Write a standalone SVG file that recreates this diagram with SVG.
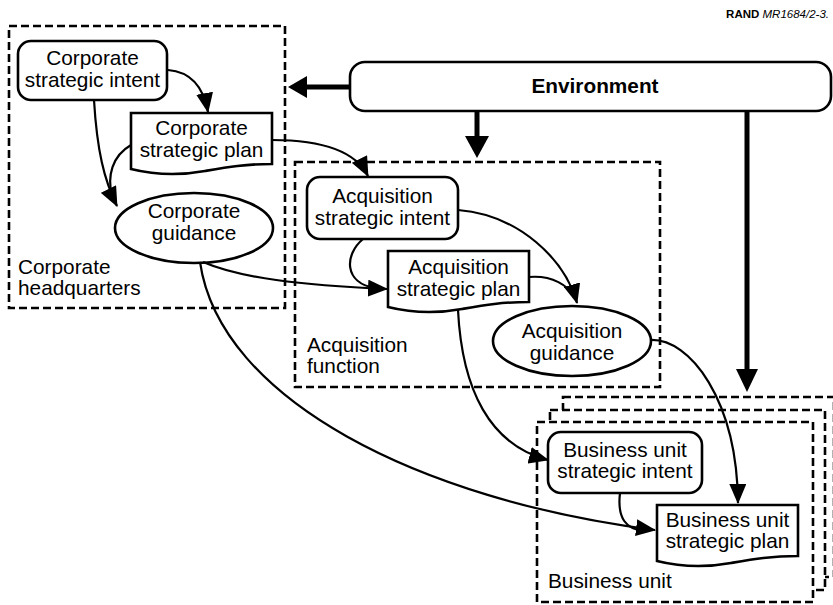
<svg xmlns="http://www.w3.org/2000/svg" width="833" height="605" viewBox="0 0 833 605">
<style>
  .t { font-family: "Liberation Sans", Arial, sans-serif; font-size: 20.8px; fill: #000; }
  .c { text-anchor: middle; }
  .node { fill: #fff; stroke: #000; stroke-width: 2.6; }
  .dash { fill: #fff; stroke: #000; stroke-width: 2.6; stroke-dasharray: 8 4; }
  .conn { fill: none; stroke: #000; stroke-width: 2.2; }
  .thick { fill: none; stroke: #000; stroke-width: 5; }
</style>
<defs>
  <marker id="ah" viewBox="0 0 20 17" refX="19" refY="8.5" markerWidth="20" markerHeight="17" markerUnits="userSpaceOnUse" orient="auto">
    <path d="M0,0 L20,8.5 L0,17 Z" fill="#000"/>
  </marker>
</defs>
<rect width="833" height="605" fill="#fff"/>

<text x="829" y="18" class="t" style="font-size:11.5px" text-anchor="end"><tspan font-weight="bold">RAND </tspan><tspan font-style="italic">MR1684/2-3.</tspan></text>

<!-- containers -->
<g id="corporate-hq">
  <rect x="9" y="26" width="276" height="282" class="dash"/>
  <text class="t" x="18" y="274">Corporate</text>
  <text class="t" x="18" y="295">headquarters</text>
</g>
<g id="acquisition-function">
  <rect x="295" y="162" width="365" height="225" class="dash"/>
  <text class="t" x="307" y="352">Acquisition</text>
  <text class="t" x="307" y="373">function</text>
</g>
<g id="business-unit">
  <rect x="563" y="397" width="271" height="180" class="dash"/>
  <rect x="550" y="410" width="275" height="180" class="dash"/>
  <rect x="537" y="422" width="276" height="180" class="dash"/>
  <text class="t" x="548" y="588">Business unit</text>
</g>

<!-- nodes -->
<g id="environment">
  <rect x="350" y="62" width="481" height="49" rx="15" class="node"/>
  <text class="t c" x="595" y="93" font-weight="bold">Environment</text>
</g>
<g id="corp-intent">
  <rect x="18" y="41" width="149" height="59" rx="13" class="node"/>
  <text class="t c" x="92.5" y="65">Corporate</text>
  <text class="t c" x="92.5" y="87">strategic intent</text>
</g>
<g id="corp-plan">
  <path d="M131,113 H272 V164 C245,164 228,167 205,171 C178,176 155,175 131,169 Z" class="node"/>
  <text class="t c" x="201.5" y="135">Corporate</text>
  <text class="t c" x="201.5" y="157">strategic plan</text>
</g>
<g id="corp-guidance">
  <ellipse cx="194" cy="228" rx="79" ry="35" class="node"/>
  <text class="t c" x="194" y="218">Corporate</text>
  <text class="t c" x="194" y="240">guidance</text>
</g>
<g id="acq-intent">
  <rect x="307" y="177" width="151" height="62" rx="13" class="node"/>
  <text class="t c" x="382.5" y="203">Acquisition</text>
  <text class="t c" x="382.5" y="225">strategic intent</text>
</g>
<g id="acq-plan">
  <path d="M388,251 H529 V302 C502,302 485,305 462,309 C435,314 412,313 388,307 Z" class="node"/>
  <text class="t c" x="458.5" y="274">Acquisition</text>
  <text class="t c" x="458.5" y="296">strategic plan</text>
</g>
<g id="acq-guidance">
  <ellipse cx="572" cy="341" rx="79" ry="35" class="node"/>
  <text class="t c" x="572" y="338">Acquisition</text>
  <text class="t c" x="572" y="360">guidance</text>
</g>
<g id="bu-intent">
  <rect x="548" y="432" width="154" height="61" rx="13" class="node"/>
  <text class="t c" x="625" y="457">Business unit</text>
  <text class="t c" x="625" y="478">strategic intent</text>
</g>
<g id="bu-plan">
  <path d="M657,505 H798 V556 C771,556 754,559 731,563 C704,568 681,567 657,561 Z" class="node"/>
  <text class="t c" x="727.5" y="527">Business unit</text>
  <text class="t c" x="727.5" y="548">strategic plan</text>
</g>

<!-- connectors -->
<g id="connectors">
  <!-- environment thick arrows -->
  <line x1="350" y1="87" x2="305" y2="87" class="thick"/>
  <path d="M288,87 L307,76 L307,98 Z"/>
  <line x1="477" y1="111" x2="477" y2="138" class="thick"/>
  <path d="M477,158 L465,136 L489,136 Z"/>
  <line x1="747" y1="111" x2="747" y2="371" class="thick"/>
  <path d="M747,392 L736,369 L758,369 Z"/>

  <path d="M168,70 C193,72 204,90 208,112" class="conn" marker-end="url(#ah)"/>
  <path d="M94,100 C97,150 104,180 117,206" class="conn" marker-end="url(#ah)"/>
  <path d="M131,145 C112,156 107,176 112,196" class="conn"/>
  <path d="M272,140 C320,140 355,150 368,176" class="conn" marker-end="url(#ah)"/>
  <path d="M203,262 C240,278 300,285 387,289" class="conn" marker-end="url(#ah)"/>
  <path d="M200,262 C220,400 420,500 655,530" class="conn" marker-end="url(#ah)"/>
  <path d="M363,239 C344,255 344,283 375,288" class="conn"/>
  <path d="M458,210 C520,215 565,260 577,303" class="conn" marker-end="url(#ah)"/>
  <path d="M529,277 C553,275 568,286 575,297" class="conn"/>
  <path d="M458,310 C462,390 490,445 548,460" class="conn" marker-end="url(#ah)"/>
  <path d="M650,340 C690,338 737,400 738,503" class="conn" marker-end="url(#ah)"/>
  <path d="M620,493 C617,518 626,530 645,531" class="conn"/>
</g>
</svg>
